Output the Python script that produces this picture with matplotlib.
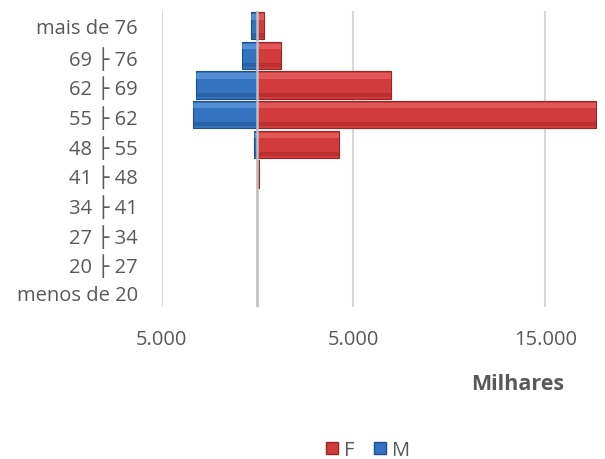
import matplotlib.pyplot as plt
from matplotlib.lines import Line2D

# age groups, bottom to top
faixas = ["menos de 20", "20 ├ 27", "27 ├ 34", "34 ├ 41", "41 ├ 48",
          "48 ├ 55", "55 ├ 62", "62 ├ 69", "69 ├ 76", "mais de 76"]
feminino = [0, 0, 0, 0, 60, 4230, 17650, 6960, 1250, 330]
masculino = [0, 0, 0, 0, 0, 190, 3370, 3230, 800, 360]

ticks = [-5000, 5000, 15000]
tick_labels = ["5.000", "5.000", "15.000"]

plt.rcParams['font.family'] = ['Open Sans', 'DejaVu Sans']
gray = "#595959"
red = "#D23B3B"
red_dark = "#9E2424"
red_light = "#EE7070"
blue = "#3473C0"
blue_dark = "#1F4E8C"
blue_light = "#6FA6E6"

fig = plt.figure(figsize=(6.05, 4.6), dpi=100)
ax = fig.add_axes([0.267, 0.330, 0.720, 0.644])

y = list(range(len(faixas)))
neg_m = [-v for v in masculino]

# main bars
ax.barh(y, feminino, height=0.92, color=red, edgecolor=red_dark, linewidth=0.8, zorder=3)
ax.barh(y, neg_m, height=0.92, color=blue, edgecolor=blue_dark, linewidth=0.8, zorder=3)

# bevel look: light strip along top, darker along bottom
ax.barh([v + 0.30 for v in y], feminino, height=0.18, color=red_light, alpha=0.55,
        linewidth=0, zorder=4)
ax.barh([v - 0.33 for v in y], feminino, height=0.14, color=red_dark, alpha=0.45,
        linewidth=0, zorder=4)
ax.barh([v + 0.30 for v in y], neg_m, height=0.18, color=blue_light, alpha=0.55,
        linewidth=0, zorder=4)
ax.barh([v - 0.33 for v in y], neg_m, height=0.14, color=blue_dark, alpha=0.45,
        linewidth=0, zorder=4)

ax.set_xlim(-5000, 17700)
ax.set_ylim(-0.5, len(faixas) - 0.5)

for t in ticks:
    ax.axvline(t, color="#D9D9D9", linewidth=1.5, zorder=1)
ax.axvline(0, color="#BFBFBF", linewidth=1.8, zorder=5)

ax.set_xticks(ticks)
ax.set_xticklabels(tick_labels)
ax.set_yticks(y)
ax.set_yticklabels(faixas)
ax.tick_params(axis='x', length=0, pad=16, labelsize=14.5, labelcolor=gray)
ax.tick_params(axis='y', length=0, pad=17, labelsize=14.5, labelcolor=gray)
for s in ax.spines.values():
    s.set_visible(False)

fig.text(518 / 605, 1 - 385 / 460, "Milhares", ha='center', va='center',
         fontsize=15.5, fontweight='bold', color=gray)

handles = [Line2D([], [], marker='s', linestyle='', markersize=9,
                  markerfacecolor=red, markeredgecolor=red_dark),
           Line2D([], [], marker='s', linestyle='', markersize=9,
                  markerfacecolor=blue, markeredgecolor=blue_dark)]
fig.legend(handles, ["F", "M"], loc='center', bbox_to_anchor=(0.605, 1 - 451 / 460),
           ncol=2, frameon=False, fontsize=14.5, labelcolor=gray,
           handletextpad=0.1, columnspacing=0.8, handlelength=1.0)

fig.savefig("out.png", dpi=100)
